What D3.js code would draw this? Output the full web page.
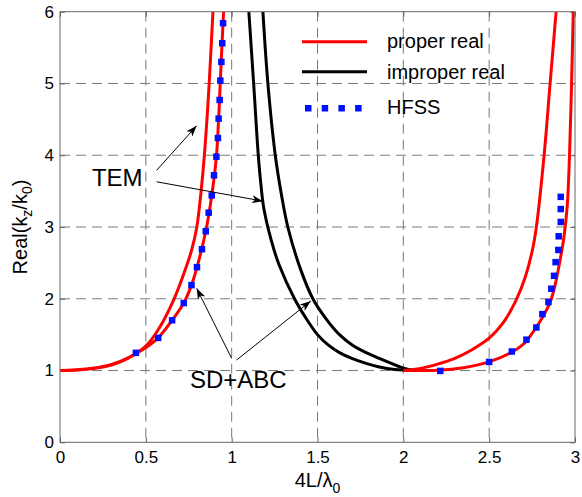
<!DOCTYPE html>
<html>
<head>
<meta charset="utf-8">
<script src="https://cdn.jsdelivr.net/npm/d3@7"></script>
<style>
body { margin: 0; background: #fff; }
text { font-family: "Liberation Sans", Arial, Helvetica, sans-serif; fill: #000; }
</style>
</head>
<body>
<script>

// tick values
var xTicks = [0, 0.5, 1, 1.5, 2, 2.5, 3];
var yTicks = [0, 1, 2, 3, 4, 5, 6];

// proper real (red) curves, [4L/lambda0, Real(kz/k0)]
var properLeftInner = [[0, 1], [0.1, 1.01], [0.2, 1.035], [0.3, 1.085], [0.4, 1.18], [0.5, 1.34], [0.58, 1.6],
  [0.665, 2.0], [0.72, 2.34], [0.767, 2.68], [0.797, 3.0], [0.822, 3.5], [0.841, 4.0], [0.856, 4.5], [0.869, 5.0], [0.891, 6.0]];
var properLeftOuter = [[0, 1], [0.1, 1.008], [0.2, 1.03], [0.3, 1.075], [0.38, 1.15], [0.442, 1.235], [0.5, 1.32],
  [0.572, 1.455], [0.653, 1.7], [0.721, 1.94], [0.766, 2.19], [0.798, 2.44], [0.849, 2.94], [0.884, 3.44],
  [0.911, 3.98], [0.924, 4.51], [0.934, 5.04], [0.944, 5.56], [0.953, 6.0]];
var properRightInner = [[2.0, 1.0], [2.1, 1.03], [2.2, 1.09], [2.3, 1.17], [2.4, 1.29], [2.5, 1.45], [2.58, 1.66],
  [2.655, 1.97], [2.71, 2.3], [2.752, 2.68], [2.775, 3.0], [2.82, 4.0], [2.855, 5.0], [2.89, 6.0]];
var properRightOuter = [[2.0, 1.0], [2.2, 1.005], [2.35, 1.04], [2.5, 1.12], [2.635, 1.26], [2.7, 1.37], [2.745, 1.5],
  [2.81, 1.74], [2.855, 1.95], [2.885, 2.2], [2.91, 2.5], [2.935, 2.85], [2.955, 3.3], [2.968, 4.0], [2.98, 5.0], [2.99, 6.0]];

// improper real (black) curves
var improperLower = [[1.10, 6.0], [1.128, 5.0], [1.155, 4.0], [1.17, 3.6], [1.188, 3.25], [1.23, 2.82], [1.275, 2.48],
  [1.366, 2.0], [1.43, 1.74], [1.5, 1.5], [1.56, 1.36], [1.628, 1.25], [1.7, 1.17], [1.783, 1.1], [1.86, 1.05],
  [1.95, 1.015], [2.07, 1.0]];
var improperUpper = [[1.182, 6.0], [1.211, 5.0], [1.254, 4.0], [1.29, 3.45], [1.327, 3.0], [1.4, 2.42], [1.473, 2.0],
  [1.55, 1.72], [1.628, 1.5], [1.7, 1.36], [1.783, 1.25], [1.86, 1.17], [1.93, 1.1], [1.98, 1.05], [2.03, 1.015], [2.08, 1.0]];

// HFSS points
var hfssLeft = [[0.442, 1.246], [0.572, 1.455], [0.653, 1.70], [0.721, 1.94], [0.766, 2.19], [0.798, 2.44], [0.827, 2.69],
  [0.849, 2.94], [0.866, 3.20], [0.884, 3.44], [0.897, 3.72], [0.911, 3.98], [0.920, 4.24], [0.924, 4.51], [0.930, 4.77],
  [0.934, 5.04], [0.940, 5.30], [0.945, 5.56], [0.950, 5.84]];
var hfssRight = [[2.215, 0.995], [2.50, 1.12], [2.632, 1.265], [2.717, 1.43], [2.775, 1.60], [2.81, 1.786], [2.845, 1.953],
  [2.862, 2.14], [2.878, 2.32], [2.887, 2.51], [2.903, 2.68], [2.905, 2.87], [2.917, 3.07], [2.917, 3.25], [2.917, 3.42]];

// svg size and plot box
var w = 582;
var h = 497;
var leftEdge = 60;
var rightEdge = 575;
var topEdge = 11.7;
var bottomEdge = 442.3;

var svg = d3.select("body")
  .append("svg")
  .attr("width", w)
  .attr("height", h);

var scaleX = d3.scaleLinear()
  .domain([0, 3])
  .range([leftEdge, rightEdge]);

var scaleY = d3.scaleLinear()
  .domain([0, 6])
  .range([bottomEdge, topEdge]);

var defs = svg.append("defs");
defs.append("clipPath")
  .attr("id", "plotClip")
  .append("rect")
  .attr("x", leftEdge)
  .attr("y", topEdge)
  .attr("width", rightEdge - leftEdge)
  .attr("height", bottomEdge - topEdge);

defs.append("marker")
  .attr("id", "arrowHead")
  .attr("viewBox", "0 0 11 8")
  .attr("refX", 11)
  .attr("refY", 4)
  .attr("markerWidth", 11)
  .attr("markerHeight", 8)
  .attr("markerUnits", "userSpaceOnUse")
  .attr("orient", "auto")
  .append("path")
  .attr("d", "M0,0 L11,4 L0,8 L3,4 Z")
  .attr("fill", "#000");

// dashed grid
svg.selectAll(".gridX")
  .data(xTicks.slice(1, -1))
  .enter()
  .append("line")
  .attr("x1", function(d) { return scaleX(d); })
  .attr("x2", function(d) { return scaleX(d); })
  .attr("y1", topEdge)
  .attr("y2", bottomEdge)
  .attr("stroke", "#7a7a7a")
  .attr("stroke-width", 1)
  .attr("stroke-dasharray", "10,6");

svg.selectAll(".gridY")
  .data(yTicks.slice(1, -1))
  .enter()
  .append("line")
  .attr("x1", leftEdge)
  .attr("x2", rightEdge)
  .attr("y1", function(d) { return scaleY(d); })
  .attr("y2", function(d) { return scaleY(d); })
  .attr("stroke", "#7a7a7a")
  .attr("stroke-width", 1)
  .attr("stroke-dasharray", "10,6");

// axes
var xAxis = d3.axisBottom(scaleX)
  .tickValues(xTicks)
  .tickFormat(d3.format("~g"))
  .tickSizeInner(-5)
  .tickSizeOuter(0)
  .tickPadding(9);

var yAxis = d3.axisLeft(scaleY)
  .tickValues(yTicks)
  .tickFormat(d3.format("~g"))
  .tickSizeInner(-5)
  .tickSizeOuter(0)
  .tickPadding(6);

var gx = svg.append("g")
  .attr("transform", "translate(0," + bottomEdge + ")")
  .call(xAxis);
var gy = svg.append("g")
  .attr("transform", "translate(" + leftEdge + ",0)")
  .call(yAxis);

[gx, gy].forEach(function(g) {
  g.select(".domain").remove();
  g.selectAll("line").attr("stroke", "#666");
  g.selectAll("text")
    .style("font-size", "17px")
    .style("font-family", "'Liberation Sans', Arial, sans-serif")
    .attr("fill", "#000");
});

// top and right ticks
svg.append("g")
  .attr("transform", "translate(0," + topEdge + ")")
  .call(d3.axisTop(scaleX).tickValues(xTicks).tickFormat("").tickSizeInner(-5).tickSizeOuter(0))
  .call(function(g) { g.select(".domain").remove(); g.selectAll("line").attr("stroke", "#666"); });
svg.append("g")
  .attr("transform", "translate(" + rightEdge + ",0)")
  .call(d3.axisRight(scaleY).tickValues(yTicks).tickFormat("").tickSizeInner(-5).tickSizeOuter(0))
  .call(function(g) { g.select(".domain").remove(); g.selectAll("line").attr("stroke", "#666"); });

// curves
var line = d3.line()
  .x(function(d) { return scaleX(d[0]); })
  .y(function(d) { return scaleY(d[1]); })
  .curve(d3.curveCatmullRom.alpha(0.5));

var plot = svg.append("g").attr("clip-path", "url(#plotClip)");

[improperLower, improperUpper].forEach(function(c) {
  plot.append("path")
    .datum(c)
    .attr("d", line)
    .attr("fill", "none")
    .attr("stroke", "#000")
    .attr("stroke-width", 3);
});

[properLeftInner, properLeftOuter, properRightInner, properRightOuter].forEach(function(c) {
  plot.append("path")
    .datum(c)
    .attr("d", line)
    .attr("fill", "none")
    .attr("stroke", "#ff0000")
    .attr("stroke-width", 3);
});

plot.selectAll(".hfss")
  .data(hfssLeft.concat(hfssRight))
  .enter()
  .append("rect")
  .attr("x", function(d) { return scaleX(d[0]) - 3.25; })
  .attr("y", function(d) { return scaleY(d[1]) - 3.25; })
  .attr("width", 6.5)
  .attr("height", 6.5)
  .attr("fill", "#0010ff");

// plot box
svg.append("rect")
  .attr("x", leftEdge)
  .attr("y", topEdge)
  .attr("width", rightEdge - leftEdge)
  .attr("height", bottomEdge - topEdge)
  .attr("fill", "none")
  .attr("stroke", "#666")
  .attr("stroke-width", 1);

// legend
svg.append("line")
  .attr("x1", 302).attr("x2", 367).attr("y1", 41.7).attr("y2", 41.7)
  .attr("stroke", "#ff0000").attr("stroke-width", 3);
svg.append("line")
  .attr("x1", 302).attr("x2", 367).attr("y1", 71.7).attr("y2", 71.7)
  .attr("stroke", "#000").attr("stroke-width", 3);
svg.selectAll(".legDot")
  .data([0, 1, 2, 3])
  .enter()
  .append("rect")
  .attr("x", function(d) { return 305 + d * 16.7; })
  .attr("y", 105)
  .attr("width", 6.5)
  .attr("height", 6.5)
  .attr("fill", "#0010ff");

var legendText = ["proper real", "improper real", "HFSS"];
var legendBase = [48, 79, 114];
legendText.forEach(function(t, i) {
  svg.append("text")
    .attr("x", 387)
    .attr("y", legendBase[i])
    .style("font-size", "20px")
    .text(t);
});

// annotations (TEM, SD+ABC) with arrows
function arrow(x1, y1, x2, y2) {
  svg.append("line")
    .attr("x1", scaleX(x1)).attr("y1", scaleY(y1))
    .attr("x2", scaleX(x2)).attr("y2", scaleY(y2))
    .attr("stroke", "#000")
    .attr("stroke-width", 1)
    .attr("marker-end", "url(#arrowHead)");
}

svg.append("text")
  .attr("x", scaleX(0.186))
  .attr("y", scaleY(3.57))
  .style("font-size", "24px")
  .text("TEM");
arrow(0.563, 3.79, 0.796, 4.41);
arrow(0.563, 3.63, 1.182, 3.36);

svg.append("text")
  .attr("x", scaleX(0.757))
  .attr("y", scaleY(0.756))
  .style("font-size", "24px")
  .text("SD+ABC");
arrow(1.0, 1.17, 0.796, 2.145);
arrow(1.029, 1.147, 1.461, 1.969);

// x axis label
var xl = svg.append("text")
  .attr("x", (leftEdge + rightEdge) / 2)
  .attr("y", 487)
  .style("font-size", "20px")
  .style("text-anchor", "middle");
xl.append("tspan").text("4L/\u03bb");
xl.append("tspan").attr("dy", 6).style("font-size", "14px").text("0");

// y axis label
var yl = svg.append("text")
  .attr("transform", "translate(27," + ((topEdge + bottomEdge) / 2) + ") rotate(-90)")
  .style("font-size", "20px")
  .style("text-anchor", "middle");
yl.append("tspan").text("Real(k");
yl.append("tspan").attr("dy", 5).style("font-size", "14px").text("z");
yl.append("tspan").attr("dy", -5).text("/k");
yl.append("tspan").attr("dy", 5).style("font-size", "14px").text("0");
yl.append("tspan").attr("dy", -5).text(")");

</script>
</body>
</html>
